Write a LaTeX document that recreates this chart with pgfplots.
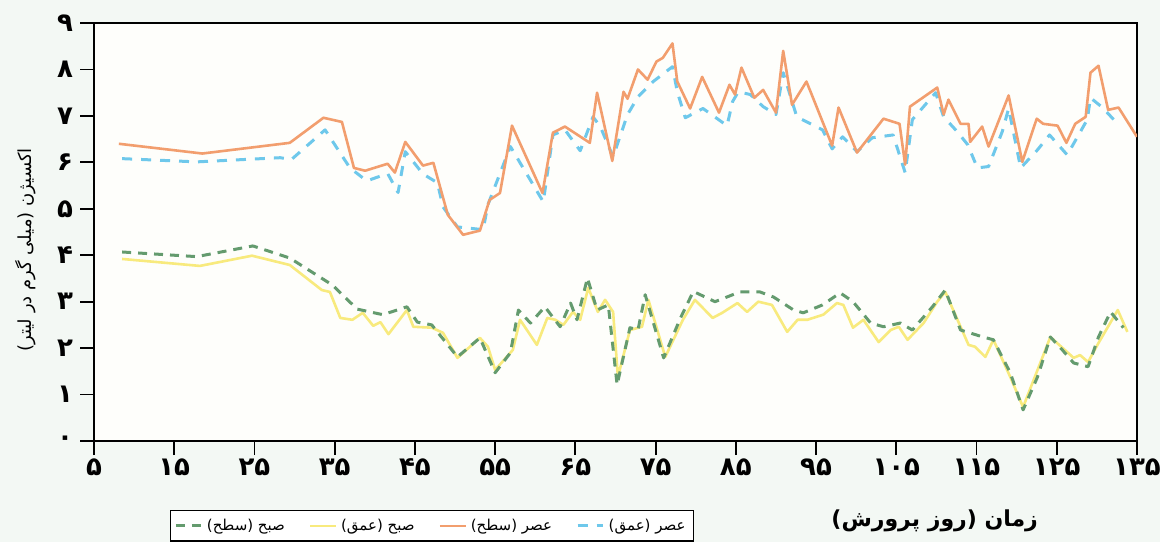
\documentclass[border=0pt]{standalone}
\usepackage{pgfplots}
\pgfplotsset{compat=1.18}
\usepackage{fontspec}
\setmainfont{DejaVu Sans}
\newfontfamily\fa[Script=Arabic]{DejaVu Sans}
\TeXXeTstate=1
\definecolor{salmon}{RGB}{242,158,110}
\definecolor{skyb}{RGB}{110,200,235}
\definecolor{grn}{RGB}{100,155,110}
\definecolor{yel}{RGB}{248,234,125}
\definecolor{paper}{RGB}{243,248,244}
\definecolor{inner}{RGB}{254,254,251}
\begin{document}
\begin{tikzpicture}
\fill[paper] (-47pt,-50.5pt) rectangle (533pt,220.5pt);
\begin{axis}[
  at={(0,0)}, anchor=south west,
  scale only axis, width=521.5pt, height=209pt,
  xmin=5, xmax=135, ymin=0, ymax=9,
  axis background/.style={fill=inner},
  axis line style={line width=1.2pt, black},
  tick align=outside, tick pos=left,
  major tick length=7pt,
  every tick/.style={black, line width=0.9pt},
  xtick={5,15,...,135},
  xticklabels={۵,۱۵,۲۵,۳۵,۴۵,۵۵,۶۵,۷۵,۸۵,۹۵,۱۰۵,۱۱۵,۱۲۵,۱۳۵},
  ytick={0,1,...,9},
  yticklabels={۰,۱,۲,۳,۴,۵,۶,۷,۸,۹},
  ticklabel style={font=\fontsize{13}{15}\fa\bfseries},
  xticklabel style={yshift=1.5pt},
  xlabel={\fa\bfseries\beginR زمان (روز پرورش)\endR},
  xlabel style={at={(axis description cs:0.806,-0.19)}, anchor=center, font=\fontsize{11}{13}\selectfont},
  ylabel={\fa\beginR اکسیژن (میلی گرم در لیتر)\endR},
  ylabel style={at={(axis description cs:-0.066,0.457)}, anchor=center, font=\fontsize{9}{11}\selectfont},
  legend style={at={(0.324,-0.203)}, anchor=center, draw=black, line width=0.8pt,
     font=\fontsize{7.5}{8.5}\fa, legend columns=4, inner sep=2pt,
     /tikz/every even column/.append style={column sep=10pt}},
  reverse legend,
  legend image code/.code={\draw[#1] (0cm,0cm) -- (0.45cm,0cm);},
  every axis plot/.append style={line join=round},
]
\addplot[color=skyb, line width=1.5pt, dash pattern=on 5pt off 4.5pt] table[x=x,y=y] {
x y
8.5 6.08
17.8 6.01
28.2 6.10
29.6 6.06
33.8 6.70
36.9 5.88
39.0 5.60
41.6 5.76
42.9 5.35
43.8 6.23
46.0 5.75
47.8 5.56
48.5 5.04
50.3 4.61
53.5 4.55
54.1 5.09
56.9 6.34
61.0 5.15
62.2 6.59
63.7 6.70
65.6 6.25
67.2 6.98
68.1 6.77
69.7 6.12
71.5 7.03
72.8 7.41
74.7 7.74
77.1 8.06
77.7 7.52
78.7 6.96
80.9 7.16
83.9 6.79
84.6 7.31
85.3 7.52
86.8 7.46
88.4 7.20
90.0 7.03
90.9 7.93
92.6 6.98
95.8 6.70
97.0 6.29
98.3 6.55
100.1 6.23
102.0 6.53
104.6 6.59
106.1 5.78
107.0 6.92
109.9 7.50
110.9 6.98
112.6 6.66
113.9 6.38
115.1 5.88
116.5 5.91
118.2 6.66
119.0 7.16
120.5 5.88
122.6 6.27
124.1 6.59
126.3 6.16
128.8 6.92
129.2 7.39
130.7 7.18
132.1 6.92
};
\addlegendentry{\beginR عصر (عمق)\endR}
\addplot[color=salmon, line width=1.3pt] table[x=x,y=y] {
x y
8.1 6.40
18.5 6.19
29.4 6.42
33.6 6.96
35.9 6.87
37.4 5.88
38.8 5.82
41.6 5.97
42.5 5.78
43.8 6.44
46.0 5.93
47.3 5.99
49.1 4.87
51.0 4.44
53.1 4.53
54.3 5.19
55.6 5.34
57.1 6.79
60.9 5.34
62.2 6.64
63.7 6.77
66.8 6.42
67.7 7.50
69.6 6.03
71.0 7.52
71.5 7.37
72.8 8.00
74.0 7.78
75.1 8.17
75.9 8.25
77.1 8.56
77.7 7.74
79.3 7.16
80.8 7.84
82.9 7.07
84.2 7.67
84.9 7.46
85.7 8.04
87.3 7.39
88.4 7.56
90.0 7.07
90.9 8.40
92.0 7.24
93.8 7.74
97.0 6.36
97.8 7.18
100.1 6.21
103.4 6.94
105.4 6.83
106.1 5.95
106.7 7.20
110.1 7.61
110.9 7.03
111.5 7.35
113.0 6.83
114.0 6.83
114.2 6.44
115.7 6.77
116.5 6.34
119.0 7.44
120.7 6.01
122.5 6.94
123.3 6.83
125.1 6.79
126.2 6.42
127.3 6.83
128.6 6.98
129.2 7.93
130.2 8.08
131.4 7.13
132.7 7.18
135.0 6.55
};
\addlegendentry{\beginR عصر (سطح)\endR}
\addplot[color=yel, line width=1.3pt] table[x=x,y=y] {
x y
8.5 3.92
18.2 3.77
24.7 3.99
29.4 3.79
33.4 3.25
34.4 3.21
35.7 2.65
37.2 2.61
38.5 2.76
39.8 2.48
40.7 2.56
41.7 2.30
44.0 2.82
44.8 2.46
47.1 2.44
48.5 2.33
50.3 1.79
53.1 2.22
54.1 2.03
55.0 1.53
57.2 1.96
58.1 2.61
60.2 2.07
61.5 2.65
62.5 2.61
63.5 2.50
64.7 2.78
65.6 2.61
66.6 3.30
67.8 2.78
68.7 3.04
69.7 2.78
70.3 1.38
71.8 2.39
73.3 2.46
74.1 3.04
76.2 1.81
78.4 2.61
79.9 3.04
82.1 2.65
83.3 2.76
85.2 2.97
86.4 2.78
87.8 3.00
89.5 2.93
91.4 2.35
92.7 2.61
93.9 2.61
95.9 2.72
97.6 2.97
98.4 2.93
99.6 2.44
100.9 2.61
102.8 2.13
104.3 2.39
105.3 2.46
106.4 2.18
108.4 2.54
110.1 3.00
111.1 3.21
114.0 2.07
114.8 2.03
116.1 1.81
117.1 2.18
119.2 1.38
120.8 0.73
124.2 2.24
127.1 1.79
127.9 1.85
128.9 1.70
130.2 2.11
132.6 2.82
133.8 2.35
};
\addlegendentry{\beginR صبح (عمق)\endR}
\addplot[color=grn, line width=1.5pt, dash pattern=on 4.5pt off 3.5pt] table[x=x,y=y] {
x y
8.5 4.07
17.8 3.97
24.8 4.20
29.4 3.94
34.7 3.36
37.8 2.84
41.0 2.72
44.0 2.89
45.3 2.56
47.1 2.50
50.3 1.81
53.1 2.22
55.0 1.47
56.9 1.90
57.9 2.82
59.4 2.54
61.2 2.89
63.1 2.46
64.4 2.97
65.2 2.61
66.5 3.51
67.7 2.82
69.1 2.93
70.2 1.21
71.8 2.44
72.8 2.39
73.7 3.15
76.0 1.79
78.1 2.65
79.7 3.22
82.4 3.00
85.5 3.21
88.0 3.21
89.7 3.10
92.2 2.82
93.4 2.76
95.8 2.93
98.0 3.19
99.6 3.00
101.8 2.54
103.4 2.46
105.5 2.54
107.0 2.39
109.5 2.89
111.1 3.25
113.0 2.39
115.8 2.24
117.1 2.18
119.2 1.47
120.8 0.67
122.6 1.38
124.2 2.24
125.7 1.96
127.1 1.68
128.9 1.60
130.2 2.24
131.7 2.78
133.3 2.44
};
\addlegendentry{\beginR صبح (سطح)\endR}
\end{axis}
\pgfresetboundingbox
\path (-47pt,-50.5pt) rectangle (533pt,220.5pt);
\end{tikzpicture}
\end{document}
